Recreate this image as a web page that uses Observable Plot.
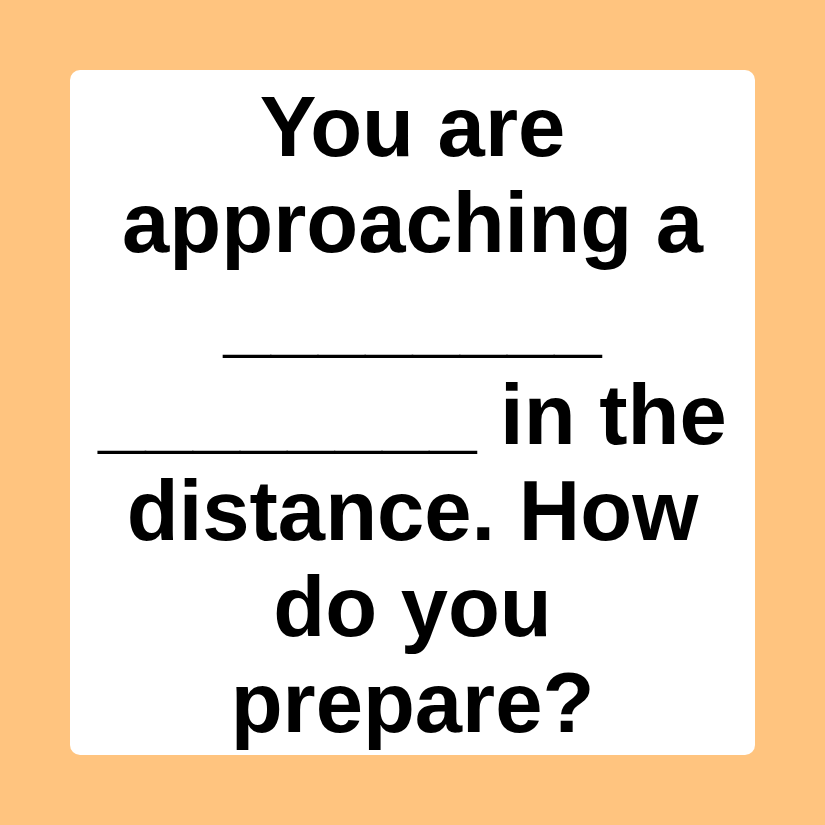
<!DOCTYPE html>
<html>
<head>
<meta charset="utf-8">
<script src="https://cdn.jsdelivr.net/npm/d3@7"></script>
<script src="https://cdn.jsdelivr.net/npm/@observablehq/plot@0.6"></script>
<style>
  body { margin: 0; background: #ffc47f; }
</style>
</head>
<body>
<div id="chart"></div>
<script>
// lines of the prompt card
const lines = [
  "You are",
  "approaching a",
  "________",
  "________ in the",
  "distance. How",
  "do you",
  "prepare?"
]
const lineNo = lines.map((d, i) => i)

// card corners, in page units
const card = [{x1: 70, x2: 755, y1: 70, y2: 755}]

let chart = Plot.plot({
  width: 825,
  height: 825,
  margin: 0,
  style: {background: "#ffc47f"},
  x: {domain: [0, 825], axis: null},
  y: {domain: [0, 825], reverse: true, axis: null},
  marks: [
    Plot.rect(card, {x1: "x1", x2: "x2", y1: "y1", y2: "y2", fill: "white", rx: 10}),
    Plot.text(lineNo, {
      x: 412,
      y: i => 128 + 96 * i,
      text: i => lines[i],
      fontSize: 85,
      fontWeight: "bold",
      fontFamily: "Liberation Sans, Arial, sans-serif",
      fill: "black"
    })
  ]
})
d3.select('#chart').append(() => chart)
</script>
</body>
</html>
